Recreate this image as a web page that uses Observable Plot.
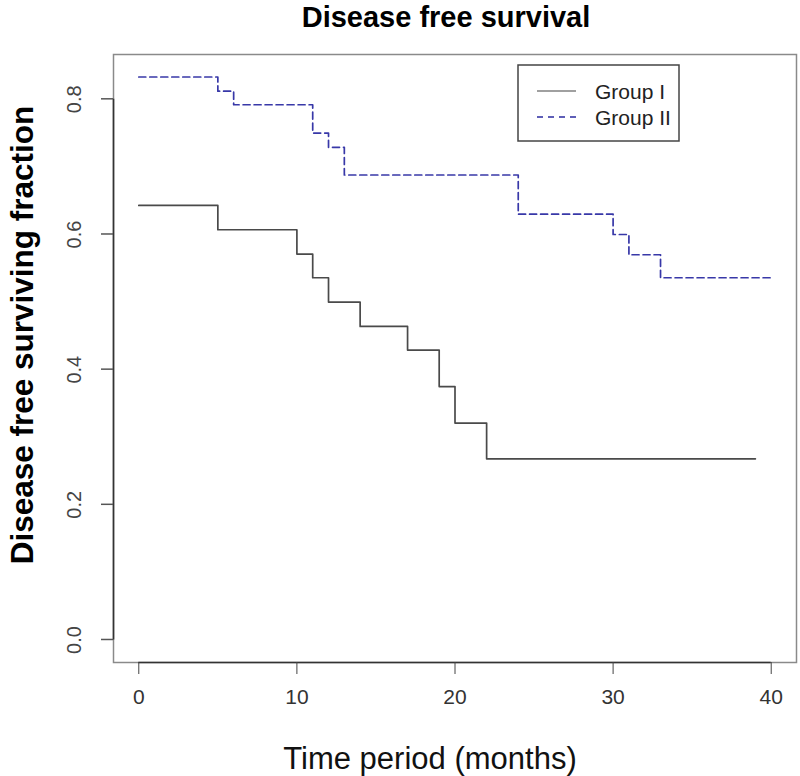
<!DOCTYPE html>
<html>
<head>
<meta charset="utf-8">
<script src="https://cdn.jsdelivr.net/npm/d3@7"></script>
<script src="https://cdn.jsdelivr.net/npm/@observablehq/plot@0.6"></script>
<style>
  html, body { margin: 0; padding: 0; background: #fff; }
  #chart svg { display: block; font-family: "Liberation Sans", Arial, sans-serif; }
</style>
</head>
<body>
<div id="chart"></div>
<script>
// Kaplan–Meier estimates of disease free survival by group
const groups = ["Group I", "Group II"];
const timeI = [0, 5, 10, 11, 12, 14, 17, 19, 20, 22, 39];
const survI = [0.643, 0.607, 0.571, 0.536, 0.500, 0.464, 0.429, 0.375, 0.321, 0.268, 0.268];
const timeII = [0, 5, 6, 11, 12, 13, 24, 30, 31, 33, 40];
const survII = [0.833, 0.812, 0.792, 0.750, 0.729, 0.688, 0.630, 0.600, 0.570, 0.536, 0.536];
const xTicks = [0, 10, 20, 30, 40];
const yTicks = [0, 0.2, 0.4, 0.6, 0.8];

const titleText = "Disease free survival";
const xLabel = "Time period (months)";
const yLabel = "Disease free surviving fraction";

const colorI = "#4a4a4a";
const colorII = "#3838a8";
const dashII = "7,4";

// R-style 4% padding around the data range
const xMin = -1.6, xMax = 41.6;
const yTop = d3.max(survII);
const yMin = -0.04 * yTop, yMax = yTop * 1.04;

const rowsI = timeI.map((t, i) => ({time: t, surv: survI[i], group: groups[0]}));
const rowsII = timeII.map((t, i) => ({time: t, surv: survII[i], group: groups[1]}));

const W = 800, H = 776;
const font = "Liberation Sans, Arial, sans-serif";

const svg = Plot.plot({
  width: W,
  height: H,
  marginLeft: 113,
  marginRight: 4,
  marginTop: 54,
  marginBottom: 114,
  style: {fontFamily: font, background: "#fff"},
  x: {domain: [xMin, xMax]},
  y: {domain: [yMin, yMax], axis: null},
  marks: [
    Plot.frame({stroke: "#8a8a8a", strokeWidth: 1.5}),
    // axis lines over the data range, as in base R
    Plot.ruleX([xMin], {y1: 0, y2: 0.8, stroke: "#333", strokeWidth: 1.6}),
    Plot.ruleY([yMin], {x1: 0, x2: 40, stroke: "#333", strokeWidth: 1.6}),
    Plot.axisX({ticks: xTicks, tickSize: 12, tickPadding: 15, fontSize: 21, label: null, stroke: "#444", color: "#333"}),
    Plot.text(yTicks, {
      x: xMin, y: d => d, text: d => d3.format(".1f")(d),
      rotate: -90, dx: -33, textAnchor: "middle", lineAnchor: "bottom",
      fontSize: 20, fill: "#444"
    }),
    Plot.line(rowsI, {x: "time", y: "surv", curve: "step-after", stroke: colorI, strokeWidth: 1.7}),
    Plot.line(rowsII, {x: "time", y: "surv", curve: "step-after", stroke: colorII, strokeWidth: 1.7, strokeDasharray: dashII})
  ]
});

document.getElementById("chart").appendChild(svg);

const s = d3.select(svg);
const yScale = svg.scale("y");
const xScale = svg.scale("x");
const left = xScale.apply(xMin);

// outward y-axis tick marks, placed through the plot's y scale
s.append("g")
  .attr("stroke", "#555").attr("stroke-width", 1.5)
  .selectAll("line")
  .data(yTicks)
  .join("line")
  .attr("x1", left - 12).attr("x2", left)
  .attr("y1", d => yScale.apply(d)).attr("y2", d => yScale.apply(d));

// title and axis titles
s.append("text")
  .attr("x", 446).attr("y", 27)
  .attr("text-anchor", "middle")
  .attr("font-family", font).attr("font-weight", "bold").attr("font-size", 29)
  .attr("fill", "#000")
  .text(titleText);

s.append("text")
  .attr("transform", "translate(33,335) rotate(-90)")
  .attr("text-anchor", "middle")
  .attr("font-family", font).attr("font-weight", "bold").attr("font-size", 31.5)
  .attr("fill", "#000")
  .text(yLabel);

s.append("text")
  .attr("x", 430).attr("y", 769)
  .attr("text-anchor", "middle")
  .attr("font-family", font).attr("font-size", 31)
  .attr("fill", "#111")
  .text(xLabel);

// legend box
const lg = s.append("g").attr("font-family", font).attr("text-anchor", "start");
lg.append("rect")
  .attr("x", 518).attr("y", 65).attr("width", 161).attr("height", 76)
  .attr("fill", "#fff").attr("stroke", "#444").attr("stroke-width", 1.5);
const legendItems = [
  {label: groups[0], stroke: "#808080", dash: null, y: 91},
  {label: groups[1], stroke: "#2a2aa0", dash: "6,5", y: 117}
];
legendItems.forEach(d => {
  lg.append("line")
    .attr("x1", 537).attr("x2", 576).attr("y1", d.y).attr("y2", d.y)
    .attr("stroke", d.stroke).attr("stroke-width", 1.6)
    .attr("stroke-dasharray", d.dash);
  lg.append("text")
    .attr("x", 595).attr("y", d.y + 8)
    .attr("text-anchor", "start")
    .attr("font-size", 21).attr("fill", "#222")
    .text(d.label);
});
</script>
</body>
</html>
